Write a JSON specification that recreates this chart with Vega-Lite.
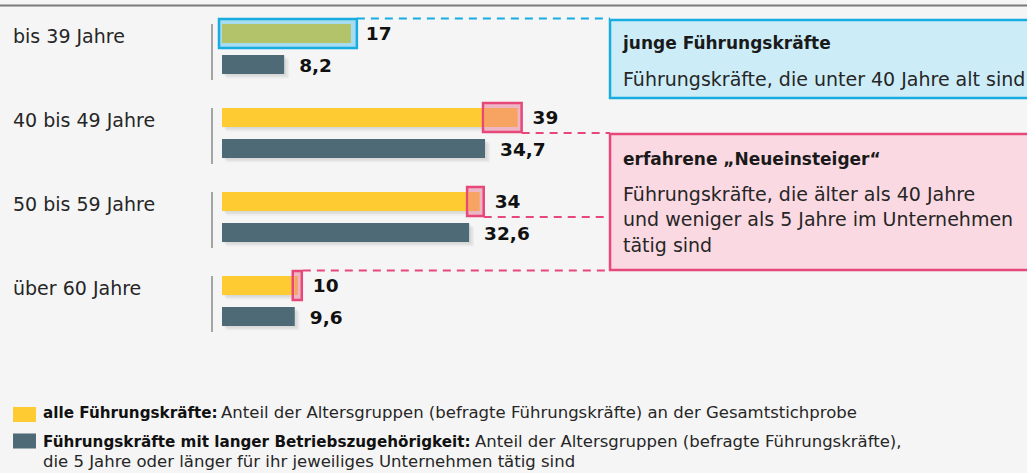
{
  "$schema": "https://vega.github.io/schema/vega-lite/v6.json",
  "width": 1027,
  "height": 473,
  "autosize": "none",
  "padding": 0,
  "background": "#F5F5F5",
  "config": {"view": {"stroke": null}, "font": "DejaVu Sans", "text": {"font": "DejaVu Sans"}},
  "resolve": {"scale": {"yOffset": "independent"}},
  "datasets": {
    "bars": [
      {"group": "bis 39 Jahre", "series": "alle", "part": "jung", "from": 0, "to": 17},
      {"group": "bis 39 Jahre", "series": "lang", "part": "lang", "from": 0, "to": 8.2},
      {"group": "40 bis 49 Jahre", "series": "alle", "part": "alle", "from": 0, "to": 34.7},
      {"group": "40 bis 49 Jahre", "series": "alle", "part": "neu", "from": 34.7, "to": 39},
      {"group": "40 bis 49 Jahre", "series": "lang", "part": "lang", "from": 0, "to": 34.7},
      {"group": "50 bis 59 Jahre", "series": "alle", "part": "alle", "from": 0, "to": 32.6},
      {"group": "50 bis 59 Jahre", "series": "alle", "part": "neu", "from": 32.6, "to": 34},
      {"group": "50 bis 59 Jahre", "series": "lang", "part": "lang", "from": 0, "to": 32.6},
      {"group": "über 60 Jahre", "series": "alle", "part": "alle", "from": 0, "to": 9.6},
      {"group": "über 60 Jahre", "series": "alle", "part": "neu", "from": 9.6, "to": 10},
      {"group": "über 60 Jahre", "series": "lang", "part": "lang", "from": 0, "to": 9.6}
    ],
    "labels": [
      {"group": "bis 39 Jahre", "series": "alle", "value": 17, "label": "17"},
      {"group": "bis 39 Jahre", "series": "lang", "value": 8.2, "label": "8,2"},
      {"group": "40 bis 49 Jahre", "series": "alle", "value": 39, "label": "39"},
      {"group": "40 bis 49 Jahre", "series": "lang", "value": 34.7, "label": "34,7"},
      {"group": "50 bis 59 Jahre", "series": "alle", "value": 34, "label": "34"},
      {"group": "50 bis 59 Jahre", "series": "lang", "value": 32.6, "label": "32,6"},
      {"group": "über 60 Jahre", "series": "alle", "value": 10, "label": "10"},
      {"group": "über 60 Jahre", "series": "lang", "value": 9.6, "label": "9,6"}
    ],
    "groups": [
      {"group": "bis 39 Jahre"},
      {"group": "40 bis 49 Jahre"},
      {"group": "50 bis 59 Jahre"},
      {"group": "über 60 Jahre"}
    ],
    "neu": [
      {"group": "40 bis 49 Jahre", "series": "alle", "from": 34.7, "to": 39},
      {"group": "50 bis 59 Jahre", "series": "alle", "from": 32.6, "to": 34},
      {"group": "über 60 Jahre", "series": "alle", "from": 9.6, "to": 10}
    ],
    "jung": [
      {"group": "bis 39 Jahre", "series": "alle", "from": 0, "to": 17}
    ]
  },
  "encoding": {
    "y": {
      "field": "group",
      "type": "nominal",
      "axis": null,
      "scale": {
        "type": "band",
        "domain": ["bis 39 Jahre", "40 bis 49 Jahre", "50 bis 59 Jahre", "über 60 Jahre"],
        "range": [7, 343],
        "paddingInner": 0,
        "paddingOuter": 0
      }
    }
  },
  "layer": [
    {
      "data": {"values": [{"group": "bis 39 Jahre"}]},
      "mark": {"type": "rule", "color": "#7a7a7a", "strokeWidth": 2, "yOffset": -43.5},
      "encoding": {
        "x": {"datum": -29.3, "type": "quantitative", "axis": null, "scale": {"domain": [0, 100], "range": [222, 980], "nice": false}},
        "x2": {"datum": 106.3}
      }
    },
    {
      "data": {"values": [{"group": "bis 39 Jahre"}]},
      "mark": {"type": "bar", "size": 78, "yOffset": 10, "fill": "#CCEDF8", "stroke": "#17ADE1", "strokeWidth": 2.5, "clip": true},
      "encoding": {
        "x": {"datum": 51.19, "type": "quantitative", "axis": null, "scale": {"domain": [0, 100], "range": [222, 980], "nice": false}},
        "x2": {"datum": 110}
      }
    },
    {
      "data": {"values": [{"group": "50 bis 59 Jahre"}]},
      "mark": {"type": "bar", "size": 136, "yOffset": -15, "fill": "#FBD9E2", "stroke": "#E8477A", "strokeWidth": 2.5, "clip": true},
      "encoding": {
        "x": {"datum": 51.19, "type": "quantitative", "axis": null, "scale": {"domain": [0, 100], "range": [222, 980], "nice": false}},
        "x2": {"datum": 110}
      }
    },
    {
      "data": {"name": "groups"},
      "mark": {"type": "tick", "color": "#5c5c5c", "size": 56, "thickness": 1.5, "yOffset": 3},
      "encoding": {
        "x": {"datum": -1.32, "type": "quantitative", "axis": null, "scale": {"domain": [0, 100], "range": [222, 980], "nice": false}}
      }
    },
    {
      "data": {"name": "groups"},
      "mark": {"type": "text", "align": "left", "baseline": "alphabetic", "dy": -6.5, "fontSize": 19, "color": "#262626"},
      "encoding": {
        "x": {"datum": -27.57, "type": "quantitative", "axis": null, "scale": {"domain": [0, 100], "range": [222, 980], "nice": false}},
        "text": {"field": "group"}
      }
    },
    {
      "data": {"name": "bars"},
      "mark": {"type": "bar", "color": "#000000", "opacity": 0.04, "xOffset": 1.5, "x2Offset": 2},
      "encoding": {
        "x": {"field": "from", "type": "quantitative", "axis": null, "scale": {"domain": [0, 100], "range": [222, 980], "nice": false}},
        "x2": {"field": "to"},
        "yOffset": {"field": "series", "type": "nominal", "scale": {"type": "band", "domain": ["alle", "lang"], "paddingInner": 0.387, "paddingOuter": 0.548, "align": 0.544}}
      }
    },
    {
      "data": {"name": "bars"},
      "mark": {"type": "bar", "color": "#000000", "opacity": 0.04, "xOffset": 3, "x2Offset": 3.5},
      "encoding": {
        "x": {"field": "from", "type": "quantitative", "axis": null, "scale": {"domain": [0, 100], "range": [222, 980], "nice": false}},
        "x2": {"field": "to"},
        "yOffset": {"field": "series", "type": "nominal", "scale": {"type": "band", "domain": ["alle", "lang"], "paddingInner": 0.387, "paddingOuter": 0.548, "align": 0.588}}
      }
    },
    {
      "data": {"name": "bars"},
      "mark": {"type": "bar", "color": "#000000", "opacity": 0.035, "xOffset": 4.5, "x2Offset": 5},
      "encoding": {
        "x": {"field": "from", "type": "quantitative", "axis": null, "scale": {"domain": [0, 100], "range": [222, 980], "nice": false}},
        "x2": {"field": "to"},
        "yOffset": {"field": "series", "type": "nominal", "scale": {"type": "band", "domain": ["alle", "lang"], "paddingInner": 0.387, "paddingOuter": 0.548, "align": 0.632}}
      }
    },
    {
      "data": {"name": "jung"},
      "mark": {"type": "bar", "size": 29, "xOffset": -3, "x2Offset": 6, "fill": "#A6DBF0"},
      "encoding": {
        "x": {"field": "from", "type": "quantitative", "axis": null, "scale": {"domain": [0, 100], "range": [222, 980], "nice": false}},
        "x2": {"field": "to"},
        "yOffset": {"field": "series", "type": "nominal", "scale": {"type": "band", "domain": ["alle", "lang"], "paddingInner": 0.387, "paddingOuter": 0.548}}
      }
    },
    {
      "data": {"name": "neu"},
      "mark": {"type": "bar", "size": 29, "xOffset": -2, "x2Offset": 4, "fill": "#EBBBC8"},
      "encoding": {
        "x": {"field": "from", "type": "quantitative", "axis": null, "scale": {"domain": [0, 100], "range": [222, 980], "nice": false}},
        "x2": {"field": "to"},
        "yOffset": {"field": "series", "type": "nominal", "scale": {"type": "band", "domain": ["alle", "lang"], "paddingInner": 0.387, "paddingOuter": 0.548}}
      }
    },
    {
      "data": {"name": "bars"},
      "mark": {"type": "bar"},
      "encoding": {
        "x": {"field": "from", "type": "quantitative", "axis": null, "scale": {"domain": [0, 100], "range": [222, 980], "nice": false}},
        "x2": {"field": "to"},
        "yOffset": {"field": "series", "type": "nominal", "scale": {"type": "band", "domain": ["alle", "lang"], "paddingInner": 0.387, "paddingOuter": 0.548}},
        "color": {"field": "part", "type": "nominal", "legend": null, "scale": {"domain": ["jung", "alle", "neu", "lang"], "range": ["#B3C36A", "#FFCB33", "#F9A34A", "#4D6A76"]}}
      }
    },
    {
      "data": {"name": "jung"},
      "mark": {"type": "bar", "size": 29, "xOffset": -3, "x2Offset": 6, "fill": null, "fillOpacity": 0, "stroke": "#17ADE1", "strokeWidth": 2.5},
      "encoding": {
        "x": {"field": "from", "type": "quantitative", "axis": null, "scale": {"domain": [0, 100], "range": [222, 980], "nice": false}},
        "x2": {"field": "to"},
        "yOffset": {"field": "series", "type": "nominal", "scale": {"type": "band", "domain": ["alle", "lang"], "paddingInner": 0.387, "paddingOuter": 0.548}}
      }
    },
    {
      "data": {"name": "neu"},
      "mark": {"type": "bar", "size": 29, "xOffset": -2, "x2Offset": 4, "fill": "#F2A7BC", "fillOpacity": 0.2, "stroke": "#E8477A", "strokeWidth": 2.5},
      "encoding": {
        "x": {"field": "from", "type": "quantitative", "axis": null, "scale": {"domain": [0, 100], "range": [222, 980], "nice": false}},
        "x2": {"field": "to"},
        "yOffset": {"field": "series", "type": "nominal", "scale": {"type": "band", "domain": ["alle", "lang"], "paddingInner": 0.387, "paddingOuter": 0.548}}
      }
    },
    {
      "data": {"values": [{"group": "bis 39 Jahre", "from": 17}]},
      "mark": {"type": "rule", "color": "#17ADE1", "strokeWidth": 2, "strokeDash": [8, 6], "xOffset": 6, "yOffset": -30.5},
      "encoding": {
        "x": {"field": "from", "type": "quantitative", "axis": null, "scale": {"domain": [0, 100], "range": [222, 980], "nice": false}},
        "x2": {"datum": 51.19}
      }
    },
    {
      "data": {"values": [{"group": "über 60 Jahre", "from": 10}]},
      "mark": {"type": "rule", "color": "#E8477A", "strokeWidth": 2, "strokeDash": [8, 6], "xOffset": 5, "yOffset": -30.5},
      "encoding": {
        "x": {"field": "from", "type": "quantitative", "axis": null, "scale": {"domain": [0, 100], "range": [222, 980], "nice": false}},
        "x2": {"datum": 51.19}
      }
    },
    {
      "data": {"values": [{"group": "40 bis 49 Jahre", "from": 39}, {"group": "50 bis 59 Jahre", "from": 34}]},
      "mark": {"type": "rule", "color": "#E8477A", "strokeWidth": 2, "strokeDash": [8, 6], "xOffset": 4},
      "encoding": {
        "x": {"field": "from", "type": "quantitative", "axis": null, "scale": {"domain": [0, 100], "range": [222, 980], "nice": false}},
        "x2": {"datum": 51.19}
      }
    },
    {
      "data": {"name": "labels"},
      "mark": {"type": "text", "align": "left", "baseline": "middle", "dx": 15, "dy": 1, "fontSize": 18.5, "fontWeight": "bold", "color": "#111111"},
      "encoding": {
        "x": {"field": "value", "type": "quantitative", "axis": null, "scale": {"domain": [0, 100], "range": [222, 980], "nice": false}},
        "yOffset": {"field": "series", "type": "nominal", "scale": {"type": "band", "domain": ["alle", "lang"], "paddingInner": 0.387, "paddingOuter": 0.548}},
        "text": {"field": "label"}
      }
    },
    {
      "data": {"values": [{"group": "bis 39 Jahre"}]},
      "mark": {"type": "text", "align": "left", "baseline": "alphabetic", "dy": -0.5, "fontSize": 17, "fontWeight": "bold", "color": "#1a1a1a", "text": "junge Führungskräfte"},
      "encoding": {
        "x": {"datum": 52.9, "type": "quantitative", "axis": null, "scale": {"domain": [0, 100], "range": [222, 980], "nice": false}}
      }
    },
    {
      "data": {"values": [{"group": "bis 39 Jahre"}]},
      "mark": {"type": "text", "align": "left", "baseline": "alphabetic", "dy": 37, "fontSize": 19, "color": "#262626", "text": "Führungskräfte, die unter 40 Jahre alt sind"},
      "encoding": {
        "x": {"datum": 52.9, "type": "quantitative", "axis": null, "scale": {"domain": [0, 100], "range": [222, 980], "nice": false}}
      }
    },
    {
      "data": {"values": [{"group": "40 bis 49 Jahre"}]},
      "mark": {"type": "text", "align": "left", "baseline": "alphabetic", "dy": 32, "fontSize": 17, "fontWeight": "bold", "color": "#1a1a1a", "text": "erfahrene „Neueinsteiger“"},
      "encoding": {
        "x": {"datum": 52.9, "type": "quantitative", "axis": null, "scale": {"domain": [0, 100], "range": [222, 980], "nice": false}}
      }
    },
    {
      "data": {"values": [{"group": "50 bis 59 Jahre"}]},
      "mark": {"type": "text", "align": "left", "baseline": "alphabetic", "dy": -16.5, "lineHeight": 25.5, "fontSize": 19, "color": "#262626", "text": ["Führungskräfte, die älter als 40 Jahre", "und weniger als 5 Jahre im Unternehmen", "tätig sind"]},
      "encoding": {
        "x": {"datum": 52.9, "type": "quantitative", "axis": null, "scale": {"domain": [0, 100], "range": [222, 980], "nice": false}}
      }
    },
    {
      "data": {"values": [{"group": "über 60 Jahre"}]},
      "mark": {"type": "bar", "size": 15, "yOffset": 113.5, "color": "#FFCB33"},
      "encoding": {
        "x": {"datum": -27.57, "type": "quantitative", "axis": null, "scale": {"domain": [0, 100], "range": [222, 980], "nice": false}},
        "x2": {"datum": -24.54}
      }
    },
    {
      "data": {"values": [{"group": "über 60 Jahre"}]},
      "mark": {"type": "bar", "size": 15, "yOffset": 140, "color": "#4D6A76"},
      "encoding": {
        "x": {"datum": -27.57, "type": "quantitative", "axis": null, "scale": {"domain": [0, 100], "range": [222, 980], "nice": false}},
        "x2": {"datum": -24.54}
      }
    },
    {
      "data": {"values": [{"group": "über 60 Jahre"}]},
      "mark": {"type": "text", "align": "left", "baseline": "alphabetic", "dy": 117, "fontSize": 15.2, "fontWeight": "bold", "color": "#111111", "text": "alle Führungskräfte:"},
      "encoding": {
        "x": {"datum": -23.61, "type": "quantitative", "axis": null, "scale": {"domain": [0, 100], "range": [222, 980], "nice": false}}
      }
    },
    {
      "data": {"values": [{"group": "über 60 Jahre"}]},
      "mark": {"type": "text", "align": "left", "baseline": "alphabetic", "dy": 117, "fontSize": 16.5, "color": "#262626", "text": "Anteil der Altersgruppen (befragte Führungskräfte) an der Gesamtstichprobe"},
      "encoding": {
        "x": {"datum": -0.13, "type": "quantitative", "axis": null, "scale": {"domain": [0, 100], "range": [222, 980], "nice": false}}
      }
    },
    {
      "data": {"values": [{"group": "über 60 Jahre"}]},
      "mark": {"type": "text", "align": "left", "baseline": "alphabetic", "dy": 146, "fontSize": 15.2, "fontWeight": "bold", "color": "#111111", "text": "Führungskräfte mit langer Betriebszugehörigkeit:"},
      "encoding": {
        "x": {"datum": -23.61, "type": "quantitative", "axis": null, "scale": {"domain": [0, 100], "range": [222, 980], "nice": false}}
      }
    },
    {
      "data": {"values": [{"group": "über 60 Jahre"}]},
      "mark": {"type": "text", "align": "left", "baseline": "alphabetic", "dy": 146, "fontSize": 16.5, "color": "#262626", "text": "Anteil der Altersgruppen (befragte Führungskräfte),"},
      "encoding": {
        "x": {"datum": 33.38, "type": "quantitative", "axis": null, "scale": {"domain": [0, 100], "range": [222, 980], "nice": false}}
      }
    },
    {
      "data": {"values": [{"group": "über 60 Jahre"}]},
      "mark": {"type": "text", "align": "left", "baseline": "alphabetic", "dy": 166, "fontSize": 16.5, "color": "#262626", "text": "die 5 Jahre oder länger für ihr jeweiliges Unternehmen tätig sind"},
      "encoding": {
        "x": {"datum": -23.61, "type": "quantitative", "axis": null, "scale": {"domain": [0, 100], "range": [222, 980], "nice": false}}
      }
    }
  ]
}
